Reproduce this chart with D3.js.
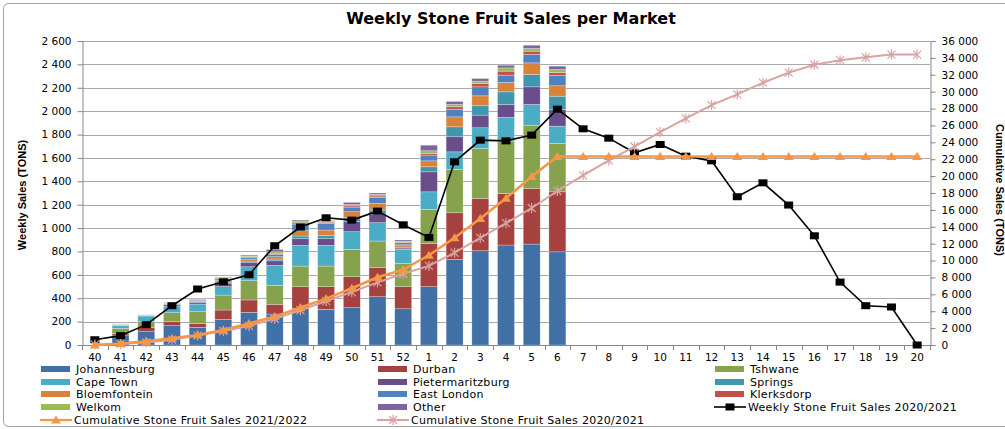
<!DOCTYPE html>
<html>
<head>
<meta charset="utf-8">
<script src="https://cdn.jsdelivr.net/npm/d3@7/dist/d3.min.js"></script>
<style>
body { margin: 0; background: #fff; }
svg text { font-family: "DejaVu Sans", Verdana, sans-serif; fill: #000; }
</style>
</head>
<body>
<div id="chart"></div>
<script>
// categories (weeks of the season)
var weeks = ["40","41","42","43","44","45","46","47","48","49","50","51","52",
             "1","2","3","4","5","6","7","8","9","10","11","12","13","14","15","16","17","18","19","20"];

// weekly sales per market, 2021/2022 (weeks 40 .. 6)
var johannesburg     = [0, 85,114,165,151,219,279,265,313,305,319,413,310, 499,732,806,855,863,797];
var durban           = [0, 15, 34, 34, 34, 80,106, 83,186,194,265,248,189, 370,399,448,441,476,513];
var tshwane          = [0, 43, 52, 77,100,128,165,162,176,176,234,228,199, 291,370,427,448,541,414];
var capeTown         = [0, 22, 48, 57, 65, 72,119,171,177,177,151,157,120, 150,151,177,202,177,148];
var pietermaritzburg = [0,  3,  2, 12, 15, 30, 35, 39, 57, 57, 85, 74, 11, 171,129,108,111,151,142];
var springs          = [0,  2,  1,  4,  6, 10, 14, 15, 23, 28, 37, 34,  8,  43, 85, 80,108,106,114];
var bloemfontein     = [0,  2,  2,  4, 10, 15, 17, 20, 45, 46, 49, 57, 12,  51, 85, 85, 80, 99, 89];
var eastLondon       = [0,  3,  2,  3,  8, 12, 15, 20, 57, 57, 34, 51, 14,  49, 63, 77, 63, 72, 88];
var klerksdorp       = [0,  1,  0,  1,  3,  3,  6, 10, 10, 10, 15, 12, 12,  14, 23, 28, 34, 28, 25];
var welkom           = [0,  2,  1,  2,  4,  5,  6, 12, 12,  8, 12, 14, 12,  23, 20, 20, 28, 23, 26];
var other            = [0,  2,  2,  3,  4,  6,  8, 20, 12,  7, 19, 12, 11,  48, 26, 23, 23, 28, 29];

// line series
var weekly2021 = [45,80,174,336,479,541,601,849,1009,1088,1068,1145,1028,
                  920,1567,1752,1746,1795,2017,1849,1769,1644,1715,1615,1575,1268,1387,1197,934,538,336,325,0];
var cum2122 = [0,180,438,800,1200,1780,2550,3367,4435,5500,6720,8020,8918,
               10627,12710,14989,17382,19946,22331,22331,22331,22331,22331,22331,22331,22331,22331,22331,22331,22331,22331,22331,22331];
var cum2021 = [45,125,299,635,1114,1655,2256,3105,4114,5202,6270,7415,8443,
               9363,10930,12682,14428,16223,18240,20089,21858,23502,25217,26832,28407,29675,31062,32259,33193,33731,34067,34392,34392];

var leftTicks = d3.range(0, 2601, 200);
var rightTicks = d3.range(0, 36001, 2000);

var markets = ["Johannesburg","Durban","Tshwane","Cape Town","Pietermaritzburg","Springs",
               "Bloemfontein","East London","Klerksdorp","Welkom","Other"];
var marketValues = [johannesburg,durban,tshwane,capeTown,pietermaritzburg,springs,
                    bloemfontein,eastLondon,klerksdorp,welkom,other];
var marketColors = ["#4170A6","#A5423F","#86A24C","#4BACC6","#6A4E8B","#4096AC",
                    "#D8823A","#5081C0","#C4504D","#9BBB59","#8064A2"];

var width = 1005, height = 429;
var plot = {left: 82, right: 930, top: 41, bottom: 345};

var svg = d3.select("#chart").append("svg")
    .attr("width", width)
    .attr("height", height);

// outer chart border
svg.append("rect")
    .attr("x", 3.5).attr("y", 3.5)
    .attr("width", 1010).attr("height", 423)
    .attr("rx", 5)
    .attr("fill", "none")
    .attr("stroke", "#a0a0a0");

var x = d3.scaleBand()
    .domain(weeks)
    .range([plot.left, plot.right])
    .paddingInner(0.34)
    .paddingOuter(0.17);

var y = d3.scaleLinear().domain([0, 2600]).range([plot.bottom, plot.top]);
var y2 = d3.scaleLinear().domain([0, 36000]).range([plot.bottom, plot.top]);

var fmt = d3.formatLocale({decimal: ".", thousands: " ", grouping: [3], currency: ["", ""]}).format(",");

// gridlines
svg.append("g")
    .selectAll("line")
    .data(leftTicks.slice(1))
    .enter().append("line")
    .attr("x1", plot.left).attr("x2", plot.right)
    .attr("y1", function(d) { return Math.round(y(d)) + 0.5; })
    .attr("y2", function(d) { return Math.round(y(d)) + 0.5; })
    .attr("stroke", "#a9a9a9");

// stacked bars
var rows = weeks.slice(0, johannesburg.length).map(function(w, i) {
    var r = {week: w};
    markets.forEach(function(m, j) { r[m] = marketValues[j][i]; });
    return r;
});
var stack = d3.stack().keys(markets)(rows);

svg.append("g").selectAll("g")
    .data(stack)
    .enter().append("g")
    .attr("fill", function(d, i) { return marketColors[i]; })
    .selectAll("rect")
    .data(function(d) { return d; })
    .enter().append("rect")
    .attr("x", function(d) { return x(d.data.week); })
    .attr("width", x.bandwidth())
    .attr("y", function(d) { return y(d[1]); })
    .attr("height", function(d) { return y(d[0]) - y(d[1]); })
    .attr("stroke", "#ffffff")
    .attr("stroke-opacity", 0.45)
    .attr("stroke-width", 0.6);

// left axis
var yAxis = svg.append("g")
    .attr("transform", "translate(" + (plot.left + 0.5) + ",0)")
    .call(d3.axisLeft(y).tickValues(leftTicks).tickFormat(fmt).tickSize(5).tickPadding(6));
yAxis.select(".domain").attr("stroke", "#868686");
yAxis.selectAll(".tick line").attr("stroke", "#868686");
yAxis.selectAll("text").style("font-size", "10.5px");

// right axis
var y2Axis = svg.append("g")
    .attr("transform", "translate(" + (plot.right + 0.5) + ",0)")
    .call(d3.axisRight(y2).tickValues(rightTicks).tickFormat(fmt).tickSize(5).tickPadding(6));
y2Axis.select(".domain").attr("stroke", "#868686");
y2Axis.selectAll(".tick line").attr("stroke", "#868686");
y2Axis.selectAll("text").style("font-size", "10.5px");

// x axis: line, ticks between categories, labels centred
var xAxis = svg.append("g");
xAxis.append("line")
    .attr("x1", plot.left).attr("x2", plot.right)
    .attr("y1", plot.bottom + 0.5).attr("y2", plot.bottom + 0.5)
    .attr("stroke", "#868686");
xAxis.selectAll(".xt")
    .data(d3.range(weeks.length + 1))
    .enter().append("line")
    .attr("x1", function(i) { return Math.round(plot.left + i * x.step()) + 0.5; })
    .attr("x2", function(i) { return Math.round(plot.left + i * x.step()) + 0.5; })
    .attr("y1", plot.bottom).attr("y2", plot.bottom + 5)
    .attr("stroke", "#868686");
xAxis.selectAll("text")
    .data(weeks)
    .enter().append("text")
    .attr("x", function(d) { return x(d) + x.bandwidth() / 2; })
    .attr("y", 361)
    .attr("text-anchor", "middle")
    .style("font-size", "10.5px")
    .text(function(d) { return d; });

// lines
var lineL = d3.line()
    .x(function(d, i) { return x(weeks[i]) + x.bandwidth() / 2; })
    .y(function(d) { return y(d); });
var lineR = d3.line()
    .x(function(d, i) { return x(weeks[i]) + x.bandwidth() / 2; })
    .y(function(d) { return y2(d); });

var tri = "M0,-4.5L5,3.5L-5,3.5Z";
var star = "M-4,-4L4,4M-4,4L4,-4M0,-5L0,5";

// weekly 2020/2021
svg.append("path")
    .attr("d", lineL(weekly2021))
    .attr("fill", "none").attr("stroke", "#000").attr("stroke-width", 1.6);
svg.append("g").selectAll("rect")
    .data(weekly2021)
    .enter().append("rect")
    .attr("x", function(d, i) { return x(weeks[i]) + x.bandwidth() / 2 - 4.5; })
    .attr("y", function(d) { return y(d) - 3.5; })
    .attr("width", 9).attr("height", 7)
    .attr("fill", "#000");

// cumulative 2020/2021
svg.append("path")
    .attr("d", lineR(cum2021))
    .attr("fill", "none").attr("stroke", "#D9A3A1").attr("stroke-width", 2);
svg.append("g").selectAll("path")
    .data(cum2021)
    .enter().append("path")
    .attr("d", star)
    .attr("transform", function(d, i) { return "translate(" + (x(weeks[i]) + x.bandwidth() / 2) + "," + y2(d) + ")"; })
    .attr("fill", "none").attr("stroke", "#D9A3A1").attr("stroke-width", 1.2);

// cumulative 2021/2022
svg.append("path")
    .attr("d", lineR(cum2122))
    .attr("fill", "none").attr("stroke", "#F79646").attr("stroke-width", 2.5);
svg.append("g").selectAll("path")
    .data(cum2122)
    .enter().append("path")
    .attr("d", tri)
    .attr("transform", function(d, i) { return "translate(" + (x(weeks[i]) + x.bandwidth() / 2) + "," + y2(d) + ")"; })
    .attr("fill", "#F79646");

// title
svg.append("text")
    .attr("x", 511).attr("y", 24)
    .attr("text-anchor", "middle")
    .style("font-size", "16px").style("font-weight", "bold")
    .text("Weekly Stone Fruit Sales per Market");

// axis titles
svg.append("text")
    .attr("transform", "translate(26,195) rotate(-90)")
    .attr("text-anchor", "middle")
    .style("font-family", "'Liberation Sans Narrow', 'Liberation Sans', Arial, sans-serif")
    .style("font-size", "11px").style("font-weight", "bold")
    .text("Weekly Sales (TONS)");
svg.append("text")
    .attr("transform", "translate(996,190) rotate(90)")
    .attr("text-anchor", "middle")
    .style("font-family", "'Liberation Sans Narrow', 'Liberation Sans', Arial, sans-serif")
    .style("font-size", "11px").style("font-weight", "bold")
    .text("Cumulative Sales (TONS)");

// legend
var legendItems = markets.map(function(m, i) { return {name: m, type: "bar", color: marketColors[i]}; });
legendItems.push({name: "Weekly Stone Fruit Sales 2020/2021", type: "square", color: "#000"});
legendItems.push({name: "Cumulative Stone Fruit Sales 2021/2022", type: "tri", color: "#F79646"});
legendItems.push({name: "Cumulative Stone Fruit Sales 2020/2021", type: "star", color: "#D9A3A1"});

var colX = [41, 378, 715];
var rowY = [369, 382, 394, 407, 420];

var legend = svg.append("g").selectAll("g")
    .data(legendItems)
    .enter().append("g")
    .attr("transform", function(d, i) { return "translate(" + colX[i % 3] + "," + rowY[Math.floor(i / 3)] + ")"; });

legend.each(function(d) {
    var g = d3.select(this);
    if (d.type === "bar") {
        g.append("rect").attr("x", 0).attr("y", -3).attr("width", 29).attr("height", 6).attr("fill", d.color);
    } else {
        g.append("line").attr("x1", -1).attr("x2", 31).attr("y1", 0).attr("y2", 0)
            .attr("stroke", d.color).attr("stroke-width", d.type === "square" ? 1.6 : 2.2);
        if (d.type === "square") g.append("rect").attr("x", 10.5).attr("y", -3.5).attr("width", 9).attr("height", 7).attr("fill", d.color);
        if (d.type === "tri") g.append("path").attr("d", tri).attr("transform", "translate(15,0)").attr("fill", d.color);
        if (d.type === "star") g.append("path").attr("d", star).attr("transform", "translate(15,0)")
            .attr("fill", "none").attr("stroke", d.color).attr("stroke-width", 1.2);
    }
    g.append("text")
        .attr("x", d.type === "bar" ? 35 : 33)
        .attr("y", 4)
        .style("font-size", "11px")
        .style("letter-spacing", "0.3px")
        .text(d.name);
});
</script>
</body>
</html>
